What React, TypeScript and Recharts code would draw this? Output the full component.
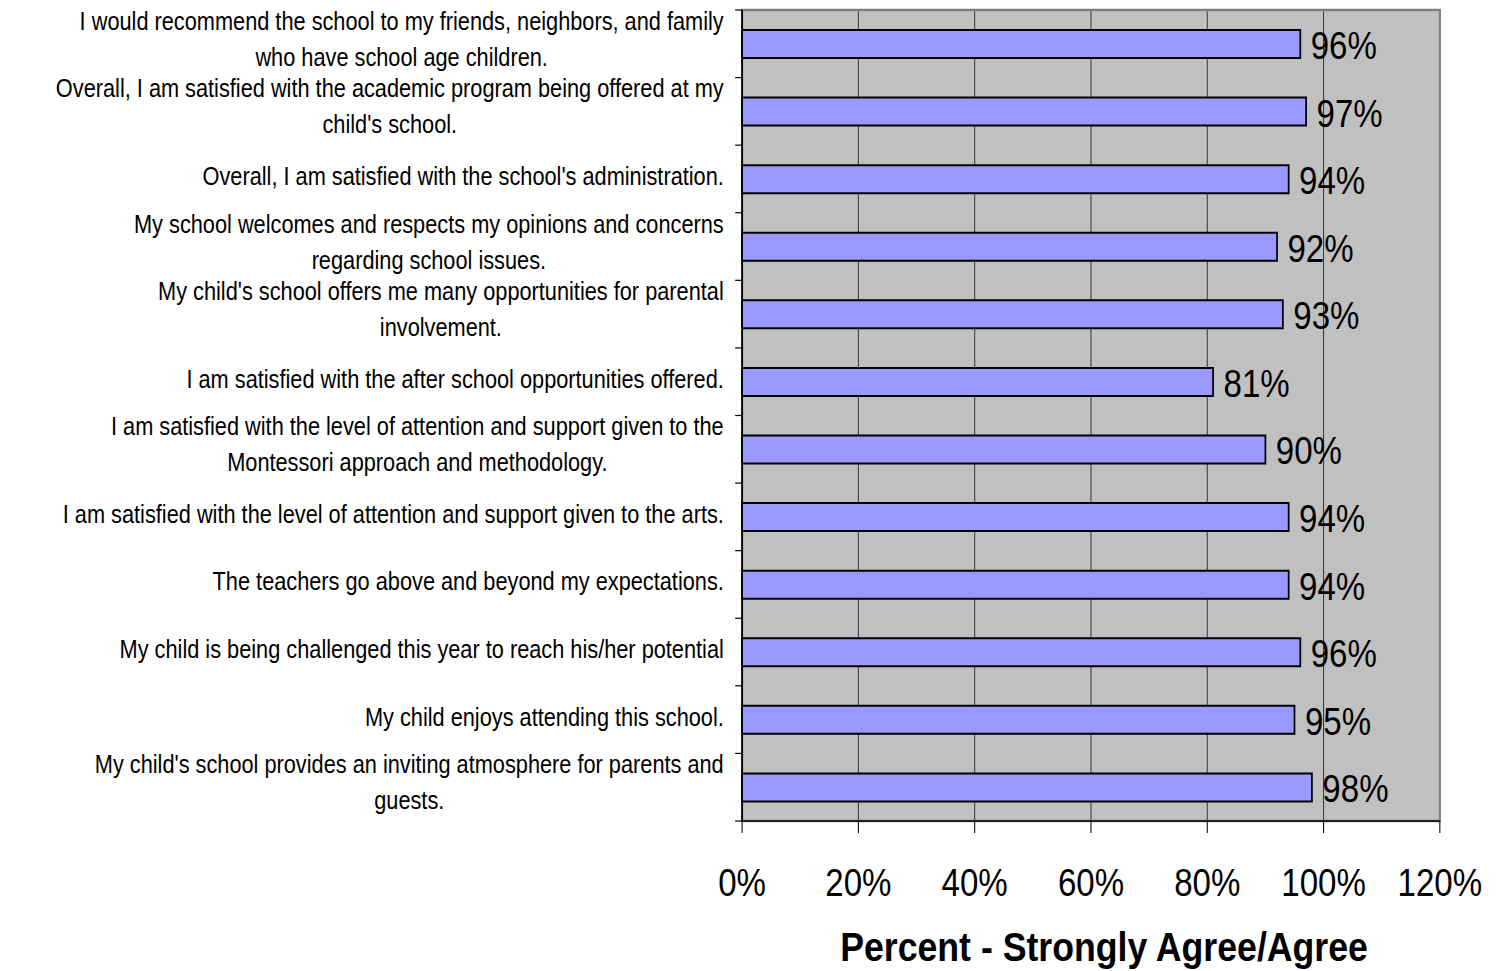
import React from "react";
import {
  BarChart,
  Bar,
  XAxis,
  YAxis,
  CartesianGrid,
  LabelList,
  Label,
  ReferenceArea,
} from "recharts";

// category labels, already wrapped the way the original shows them
const CATEGORY_LINES: string[][] = [
  ["I would recommend the school to my friends, neighbors, and family", "who have school age children."],
  ["Overall, I am satisfied with the academic program being offered at my", "child's school."],
  ["Overall, I am satisfied with the school's administration."],
  ["My school welcomes and respects my opinions and concerns", "regarding school issues."],
  ["My child's school offers me many opportunities for parental", "involvement."],
  ["I am satisfied with the after school opportunities offered."],
  ["I am satisfied with the level of attention and support given to the", "Montessori approach and methodology."],
  ["I am satisfied with the level of attention and support given to the arts."],
  ["The teachers go above and beyond my expectations."],
  ["My child is being challenged this year to reach his/her potential"],
  ["My child enjoys attending this school."],
  ["My child's school provides an inviting atmosphere for parents and", "guests."],
];

const PERCENTS = [96, 97, 94, 92, 93, 81, 90, 94, 94, 96, 95, 98];
const X_TICKS = [0, 20, 40, 60, 80, 100, 120];
const AXIS_TITLE = "Percent - Strongly Agree/Agree";

const data = CATEGORY_LINES.map((lines, i) => ({
  name: lines.join(" "),
  value: PERCENTS[i],
}));

// the original is horizontally squeezed, so draw wider and scale down
const SX = 0.87;
const WIDTH = 1729;
const HEIGHT = 971;
const Y_AXIS_W = 853;
const TOP = 10;
const X_AXIS_H = 150;
const PLOT_H = HEIGHT - TOP - X_AXIS_H;
const BAND = PLOT_H / CATEGORY_LINES.length;

const FONT = "'Liberation Sans', Arial, sans-serif";
const LABEL_SIZE = 25;

let ctx: CanvasRenderingContext2D | null = null;
function measure(text: string) {
  if (!ctx) ctx = document.createElement("canvas").getContext("2d");
  if (!ctx) return text.length * 11;
  ctx.font = `${LABEL_SIZE}px ${FONT}`;
  return ctx.measureText(text).width;
}

function CategoryTick(props: any) {
  const { y, index } = props;
  const lines = CATEGORY_LINES[index] || [];
  const right = Y_AXIS_W - 21;
  const top = y - BAND / 2;
  const marks = [top];
  if (index === CATEGORY_LINES.length - 1) marks.push(top + BAND);
  const blockW = Math.max(...lines.map(measure));
  const centerX = right - blockW / 2;
  return (
    <g>
      {marks.map((m, k) => (
        <line key={k} x1={Y_AXIS_W - 8} x2={Y_AXIS_W} y1={m} y2={m} stroke="#000" strokeWidth={1.2} />
      ))}
      {lines.length === 1 ? (
        <text x={right} y={y + 6} textAnchor="end" fontSize={LABEL_SIZE} fontFamily={FONT} fill="#000">
          {lines[0]}
        </text>
      ) : (
        lines.map((l, k) => (
          <text
            key={k}
            x={centerX}
            y={y - 14 + k * 36}
            textAnchor="middle"
            fontSize={LABEL_SIZE}
            fontFamily={FONT}
            fill="#000"
          >
            {l}
          </text>
        ))
      )}
    </g>
  );
}

function PercentTick(props: any) {
  const { x, y, payload } = props;
  return (
    <text x={x} y={y + 61} textAnchor="middle" fontSize={38} fontFamily={FONT} fill="#000">
      {payload.value}%
    </text>
  );
}

function ValueLabel(props: any) {
  const { x, y, width, height, value } = props;
  return (
    <text x={x + width + 12} y={y + height / 2 + 15} fontSize={38} fontFamily={FONT} fill="#000">
      {value}%
    </text>
  );
}

export default function App() {
  return (
    <div style={{ position: "absolute", left: 0, top: 0, width: 1504, height: HEIGHT, overflow: "hidden", background: "#fff" }}>
      <div style={{ width: WIDTH, height: HEIGHT, transform: `scaleX(${SX})`, transformOrigin: "0 0" }}>
        <BarChart
          width={WIDTH}
          height={HEIGHT}
          data={data}
          layout="vertical"
          margin={{ top: TOP, right: 74, bottom: 0, left: 0 }}
          barCategoryGap={0}
        >
          <CartesianGrid horizontal={false} vertical stroke="#3a3a3a" strokeWidth={1.2} fill="#C0C0C0" fillOpacity={1} />
          <ReferenceArea x1={0} x2={120} fill="none" stroke="#808080" strokeWidth={2.5} ifOverflow="visible" />
          <XAxis
            type="number"
            domain={[0, 120]}
            ticks={X_TICKS}
            interval={0}
            height={X_AXIS_H}
            tickSize={12}
            tickLine={{ stroke: "#000", strokeWidth: 1.2 }}
            axisLine={{ stroke: "#000", strokeWidth: 1.5 }}
            tick={<PercentTick />}
          >
            <Label
              content={(p: any) => {
                const vb = p.viewBox || {};
                return (
                  <text
                    x={vb.x + vb.width / 2 + 15}
                    y={vb.y + 140}
                    textAnchor="middle"
                    fontSize={41}
                    fontWeight="bold"
                    fontFamily={FONT}
                    fill="#000"
                  >
                    {AXIS_TITLE}
                  </text>
                );
              }}
            />
          </XAxis>
          <YAxis
            type="category"
            dataKey="name"
            width={Y_AXIS_W}
            interval={0}
            tickLine={false}
            axisLine={{ stroke: "#000", strokeWidth: 2 }}
            tick={<CategoryTick />}
          />
          <Bar dataKey="value" fill="#9999FF" stroke="#000" strokeWidth={2} barSize={28} isAnimationActive={false}>
            <LabelList dataKey="value" content={<ValueLabel />} />
          </Bar>
        </BarChart>
      </div>
    </div>
  );
}
